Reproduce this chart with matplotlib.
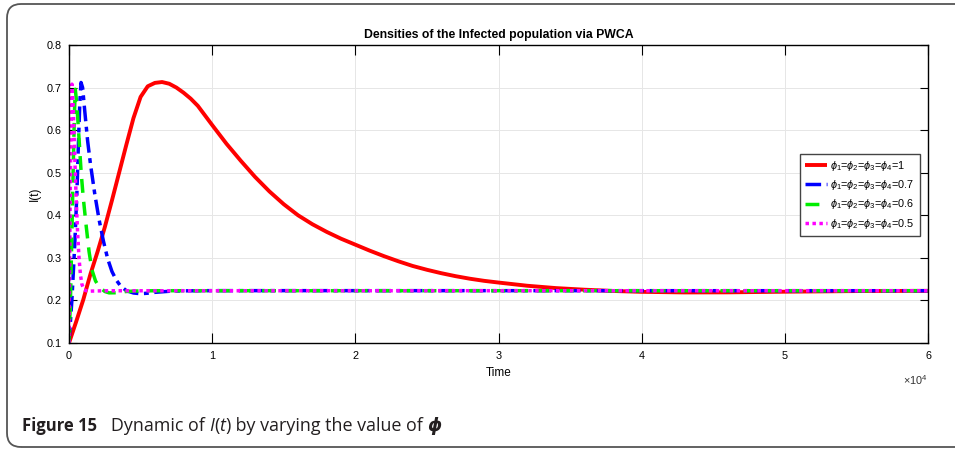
import matplotlib
matplotlib.use('Agg')
import matplotlib.pyplot as plt
from matplotlib.patches import FancyBboxPatch
from matplotlib.transforms import IdentityTransform
from matplotlib.ticker import FuncFormatter

# values
t_red = [0, 500, 1000, 1500, 2000, 2500, 3000, 3500, 4000, 4500, 5000, 5500, 6000, 6500,
         7000, 7500, 8000, 8500, 9000, 10000, 11000, 12000, 13000, 14000, 15000, 16000,
         17000, 18000, 19000, 20000, 21000, 22000, 23000, 24000, 25000, 26000, 27000,
         28000, 29000, 30000, 32000, 34000, 36000, 38000, 40000, 43000, 46000, 50000,
         55000, 60000]
i_red = [0.1, 0.15, 0.202, 0.262, 0.315, 0.372, 0.435, 0.5, 0.565, 0.628, 0.678, 0.703,
         0.711, 0.713, 0.709, 0.7, 0.688, 0.674, 0.657, 0.612, 0.568, 0.528, 0.49, 0.456,
         0.426, 0.4, 0.379, 0.361, 0.345, 0.331, 0.317, 0.304, 0.292, 0.281, 0.272, 0.264,
         0.257, 0.251, 0.246, 0.242, 0.2345, 0.229, 0.2252, 0.2222, 0.2202, 0.2188,
         0.219, 0.2205, 0.222, 0.2225]

t_blue = [0, 200, 400, 550, 650, 750, 840, 950, 1100, 1300, 1500, 1800, 2100, 2400, 2700,
          3000, 3300, 3600, 4000, 4500, 5000, 5500, 6000, 7000, 8000, 10000, 60000]
i_blue = [0.1, 0.2, 0.33, 0.45, 0.56, 0.66, 0.712, 0.7, 0.645, 0.575, 0.52, 0.45, 0.39,
          0.34, 0.298, 0.268, 0.248, 0.234, 0.223, 0.2175, 0.2158, 0.217, 0.219, 0.2215,
          0.2225, 0.223, 0.2228]

t_green = [0, 100, 200, 300, 380, 440, 550, 700, 850, 1000, 1200, 1400, 1600, 1850, 2100,
           2500, 2800, 3200, 3800, 4500, 6000, 60000]
i_green = [0.1, 0.2, 0.35, 0.52, 0.64, 0.696, 0.66, 0.58, 0.5, 0.44, 0.375, 0.315, 0.272,
           0.246, 0.232, 0.221, 0.2178, 0.218, 0.2205, 0.222, 0.2228, 0.2228]

t_mag = [0, 50, 100, 150, 210, 300, 400, 500, 600, 700, 800, 900, 1050, 1300, 1600, 2500,
         60000]
i_mag = [0.1, 0.3, 0.5, 0.64, 0.708, 0.65, 0.54, 0.44, 0.36, 0.3, 0.26, 0.238, 0.225,
         0.2215, 0.222, 0.2227, 0.2228]

labels = [r'$\phi_1$=$\phi_2$=$\phi_3$=$\phi_4$=1',
          r'$\phi_1$=$\phi_2$=$\phi_3$=$\phi_4$=0.7',
          r'$\phi_1$=$\phi_2$=$\phi_3$=$\phi_4$=0.6',
          r'$\phi_1$=$\phi_2$=$\phi_3$=$\phi_4$=0.5']
x_ticks = [0, 10000, 20000, 30000, 40000, 50000, 60000]
y_ticks = [0.1, 0.2, 0.3, 0.4, 0.5, 0.6, 0.7, 0.8]

plt.rcParams['font.family'] = ['Liberation Sans', 'DejaVu Sans']
plt.rcParams['mathtext.fontset'] = 'custom'
plt.rcParams['mathtext.rm'] = 'Liberation Sans'
plt.rcParams['mathtext.it'] = 'Liberation Sans:italic'

fig = plt.figure(figsize=(9.55, 4.5), dpi=100)
ax = fig.add_axes([69 / 955, 1 - 343 / 450, 859 / 955, 298 / 450])

ax.plot(t_red, i_red, color='red', lw=2.8, label=labels[0], solid_capstyle='butt')
ax.plot(t_blue, i_blue, color='blue', lw=2.5, dashes=(4.5, 1.6, 1.4, 1.6), label=labels[1])
ax.plot(t_green, i_green, color='#00ee00', lw=2.5, dashes=(4, 2.6), label=labels[2])
ax.plot(t_mag, i_mag, color='magenta', lw=2.5, dashes=(1, 1), label=labels[3])

ax.set_xlim(0, 60000)
ax.set_ylim(0.1, 0.8)
ax.set_xticks(x_ticks)
ax.set_yticks(y_ticks)
ax.xaxis.set_major_formatter(FuncFormatter(lambda v, p: '%g' % (v / 1e4)))
ax.yaxis.set_major_formatter(FuncFormatter(lambda v, p: '%.1f' % v))
ax.tick_params(axis='both', direction='in', top=True, right=True, width=0.8,
               labelsize=7.8, colors='black')
ax.tick_params(axis='x', length=7, pad=6)
ax.tick_params(axis='y', length=5.5, pad=5)
ax.grid(True, color='#e6e6e6', lw=0.7)
for s in ax.spines.values():
    s.set_linewidth(1.0)

ax.set_title('Densities of the Infected population via PWCA', fontsize=8.8,
             fontweight='bold', pad=5)
ax.set_xlabel('Time', fontsize=8.5, labelpad=4)
ax.set_ylabel('I(t)', fontsize=8.5, labelpad=4)
ax.text(1.0, -0.125, r'$\times10^4$', transform=ax.transAxes, ha='right', va='center',
        fontsize=7.8, color='#333333')

ax.legend(loc='upper left', bbox_to_anchor=(0.851, 0.635), fontsize=7.8,
          fancybox=False, edgecolor='#444444', framealpha=1, handlelength=2.0,
          handletextpad=0.35, labelspacing=0.5, borderpad=0.45, borderaxespad=0)

# rounded frame round the figure
frame = FancyBboxPatch((7, 3), 1000, 443, boxstyle='round,pad=0,rounding_size=14',
                       transform=IdentityTransform(), fill=False, edgecolor='#555555',
                       lw=1.3)
fig.add_artist(frame)

# caption pieces
renderer = fig.canvas.get_renderer()
x = 22
y = 1 - 431 / 450
pieces = [('Figure 15', 'bold', 'normal', 12), ('   Dynamic of ', 'normal', 'normal', 12.9),
          ('I', 'normal', 'italic', 12.9), ('(', 'normal', 'normal', 12.9),
          ('t', 'normal', 'italic', 12.9), (')', 'normal', 'normal', 12.9),
          (' by varying the value of ', 'normal', 'normal', 12.9),
          ('\u03d5', 'bold', 'italic', 12.9)]
for txt, w, st, fs in pieces:
    tt = fig.text(x / 955, y, txt, fontsize=fs, fontweight=w, fontstyle=st,
                  family=['Open Sans', 'DejaVu Sans'], color='#231f20', va='baseline')
    bb = tt.get_window_extent(renderer)
    x += bb.width

fig.savefig('out.png', dpi=100)
